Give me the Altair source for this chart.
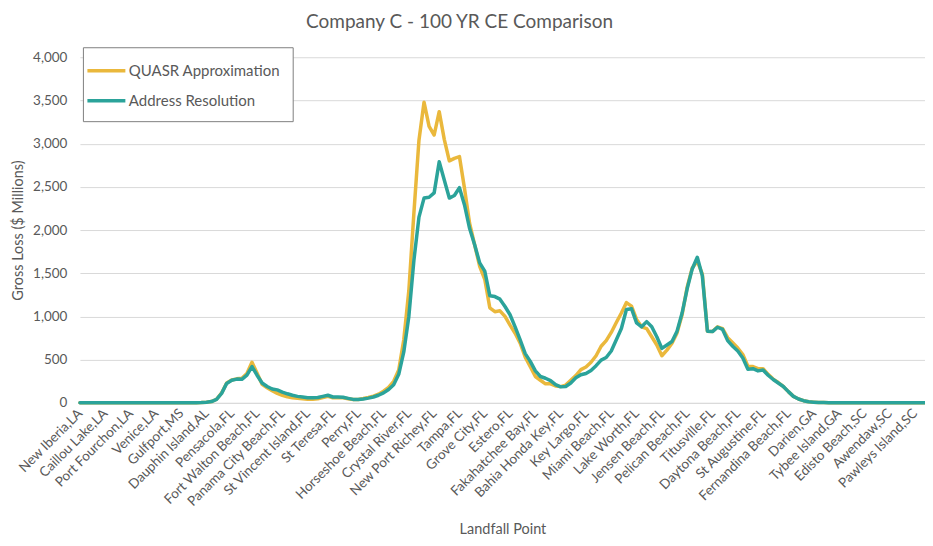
import altair as alt
import pandas as pd

landfall_labels = [
    "New Iberia,LA", "Caillou Lake,LA", "Port Fourchon,LA", "Venice,LA", "Gulfport,MS",
    "Dauphin Island,AL", "Pensacola,FL", "Fort Walton Beach,FL", "Panama City Beach,FL",
    "St Vincent Island,FL", "St Teresa,FL", "Perry,FL", "Horseshoe Beach,FL", "Crystal River,FL",
    "New Port Richey,FL", "Tampa,FL", "Grove City,FL", "Estero,FL", "Fakahatchee Bay,FL",
    "Bahia Honda Key,FL", "Key Largo,FL", "Miami Beach,FL", "Lake Worth,FL", "Jensen Beach,FL",
    "Pelican Beach,FL", "Titusville,FL", "Daytona Beach,FL", "St Augustine,FL",
    "Fernandina Beach,FL", "Darien,GA", "Tybee Island,GA", "Edisto Beach,SC", "Awendaw,SC",
    "Pawleys Island,SC",
]

quasr = (
    [0] * 23
    + [2, 4, 8, 15, 42, 115, 230, 265, 278, 285, 340, 470, 345, 215, 175, 140, 110, 88, 70, 60,
       52, 48, 42, 42, 48, 62, 75, 58, 60, 58, 48, 38, 40, 50, 62, 78, 100, 135, 180, 250,
       380, 730, 1300, 2200, 3040, 3480, 3200, 3100, 3370, 3050, 2800, 2830, 2850, 2480, 2080, 1830,
       1580, 1430, 1100, 1055, 1065, 1000, 900, 805, 690, 530, 420, 305, 262, 220, 220, 195,
       188, 205, 260, 315, 385, 415, 470, 545, 655, 720, 815, 930, 1040, 1160, 1120, 965,
       880, 860, 765, 670, 545, 610, 690, 810, 1020, 1340, 1560, 1640, 1490, 830, 825, 880,
       860, 755, 695, 635, 560, 425, 420, 395, 395, 330, 275, 235, 190, 130, 75, 45,
       25, 12, 8, 5, 3, 2]
    + [0] * 19
)

address = (
    [0] * 23
    + [2, 4, 8, 15, 40, 110, 225, 262, 275, 272, 320, 420, 320, 230, 190, 160, 150, 125, 105, 88,
       75, 68, 60, 58, 62, 75, 88, 68, 68, 65, 52, 40, 38, 45, 55, 68, 88, 115, 155, 210,
       330, 590, 1000, 1650, 2150, 2370, 2380, 2430, 2790, 2580, 2370, 2400, 2490, 2290, 2020, 1830,
       1620, 1525, 1240, 1230, 1200, 1115, 1020, 880, 730, 570, 480, 370, 305, 285, 258, 210,
       185, 190, 230, 290, 325, 340, 375, 430, 495, 525, 600, 730, 860, 1080, 1090, 925,
       880, 940, 880, 765, 630, 670, 710, 830, 1040, 1320, 1550, 1685, 1470, 830, 825, 875,
       850, 720, 655, 600, 520, 390, 395, 370, 380, 320, 270, 230, 190, 130, 75, 45,
       25, 12, 8, 5, 3, 2]
    + [0] * 19
)

series_names = ["QUASR Approximation", "Address Resolution"]
series_colors = ["#EAB83C", "#2BA39A"]

n = len(quasr)
df = pd.DataFrame({
    "idx": list(range(n)) * 2,
    "loss": quasr + address,
    "series": [series_names[0]] * n + [series_names[1]] * n,
})

label_step = 5
label_expr = "[" + ",".join("'" + s + "'" for s in landfall_labels) + "][datum.value/" + str(label_step) + "]"
tick_vals = [i * label_step for i in range(len(landfall_labels))]

FONT = "Lato"
GREY = "#595959"

x_enc = alt.X(
    "idx:Q",
    scale=alt.Scale(domain=[0, n - 1], nice=False, zero=False),
    axis=alt.Axis(
        title="Landfall Point",
        values=tick_vals,
        labelExpr=label_expr,
        labelAngle=-45,
        labelAlign="right",
        labelBaseline="middle",
        labelPadding=8,
        labelFontSize=13.5,
        labelColor=GREY,
        labelFont=FONT,
        labelOverlap=False,
        labelFlush=False,
        ticks=False,
        grid=False,
        domain=True,
        domainColor="#D9D9D9",
        domainWidth=1,
        titleFontSize=14.5,
        titleFont=FONT,
        titleColor=GREY,
        titleFontWeight="normal",
        titleY=120,
        titleBaseline="top",
    ),
)
y_enc = alt.Y(
    "loss:Q",
    scale=alt.Scale(domain=[0, 4000], nice=False),
    axis=alt.Axis(
        title="Gross Loss ($ Millions)",
        values=list(range(0, 4001, 500)),
        format=",.0f",
        labelFontSize=13.5,
        labelColor=GREY,
        labelFont=FONT,
        labelPadding=13,
        ticks=False,
        domain=False,
        grid=True,
        gridColor="#D9D9D9",
        gridWidth=1,
        titleFontSize=14.5,
        titleFont=FONT,
        titleColor=GREY,
        titleFontWeight="normal",
        titleX=-61,
        titleBaseline="middle",
    ),
)
color_enc = alt.Color(
    "series:N",
    scale=alt.Scale(domain=series_names, range=series_colors),
    legend=alt.Legend(
        title=None,
        orient="none",
        legendX=3,
        legendY=-10,
        direction="vertical",
        symbolType="M-2,0H2",
        symbolSize=361,
        symbolStrokeWidth=3.5,
        labelFontSize=15,
        labelFont=FONT,
        labelColor=GREY,
        labelOffset=11,
        rowPadding=10,
        padding=12,
        strokeColor="#7F7F7F",
        fillColor="white",
    ),
)

layers = []
for s in series_names:
    layers.append(
        alt.Chart(df)
        .transform_filter(alt.datum.series == s)
        .mark_line(strokeWidth=3.5, strokeJoin="round", strokeCap="round")
        .encode(x=x_enc, y=y_enc, color=color_enc)
    )

chart = (
    alt.layer(*layers)
    .properties(
        width=846,
        height=346,
        autosize=alt.AutoSizeParams(type="none"),
        padding={"left": 72, "top": 49, "right": 0, "bottom": 136},
        title=alt.TitleParams(
            "Company C - 100 YR CE Comparison",
            font=FONT,
            fontSize=19,
            fontWeight="normal",
            color=GREY,
            anchor="middle",
            dx=-43,
            offset=15,
        ),
    )
    .configure_view(stroke=None)
)

chart.save("out.html", embed_options={"renderer": "svg", "actions": False})
